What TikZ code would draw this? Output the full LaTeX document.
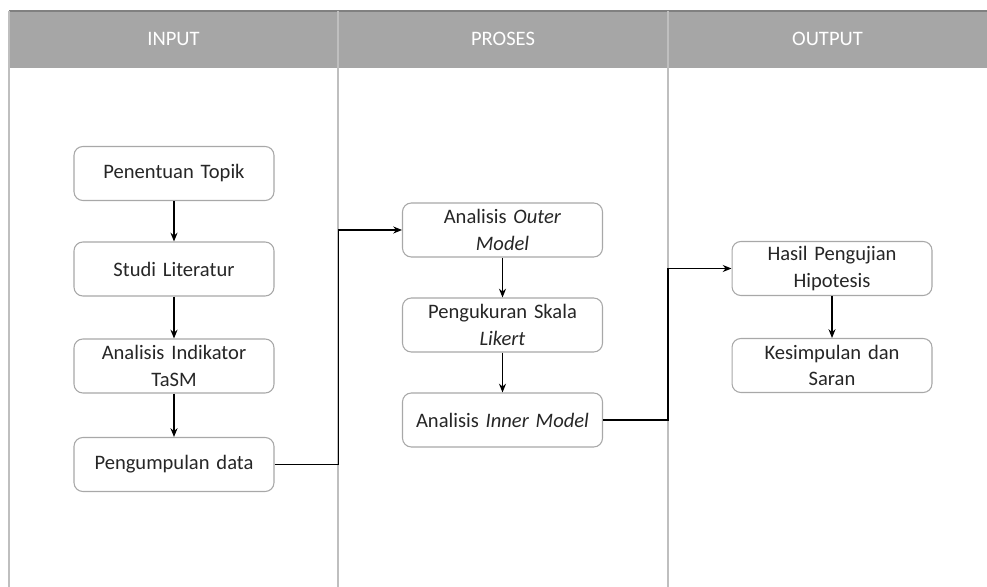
\documentclass[tikz,border=0pt]{standalone}
\usepackage{fontspec}
\setmainfont{Carlito}
\usepackage{tikz}
\usetikzlibrary{arrows.meta}
\definecolor{headgray}{HTML}{A6A6A6}
\definecolor{linegray}{HTML}{BFBFBF}
\definecolor{boxgray}{HTML}{A8A8A8}
\definecolor{textdark}{HTML}{262626}

\tikzset{
  stepbox/.style={draw=boxgray,line width=0.6pt,rounded corners=5pt,fill=white,
    minimum width=4cm,minimum height=1.08cm,align=center,text width=3.8cm,
    text=textdark,font=\fontsize{11.7}{15}\selectfont,inner sep=0pt},
  headtext/.style={text=white,font=\fontsize{11.7}{14}\selectfont},
  flow/.style={-{Stealth[length=5pt,width=4pt]},line width=0.6pt,black}
}

\begin{document}
\begin{tikzpicture}[x=0.02cm,y=-0.02cm]
      \useasboundingbox (0,0) rectangle (987,587);
      % kolom
      \fill[headgray] (9,11) rectangle (987,67);
      \draw[gray,line width=0.8pt] (9,11)--(987,11);
      \draw[gray!70,line width=0.6pt] (9,67)--(987,67);
      \foreach \xk in {9,338,668}
        \draw[linegray,line width=0.8pt] (\xk,11)--(\xk,587);
      \node[headtext] (hin) at (173.5,39) {INPUT};
      \node[headtext] (hpr) at (503,39) {PROSES};
      \node[headtext] (hout) at (827.5,39) {OUTPUT};
      % input
      \node[stepbox] (topik) at (174,173.5) {Penentuan Topik};
      \node[stepbox] (studi) at (174,269) {Studi Literatur};
      \node[stepbox] (indik) at (174,366) {Analisis Indikator\\TaSM};
      \node[stepbox] (data) at (174,464.5) {Pengumpulan data};
      % proses
      \node[stepbox] (outer) at (502.5,230) {Analisis \textit{Outer}\\\textit{Model}};
      \node[stepbox] (likert) at (502.5,325) {Pengukuran Skala\\\textit{Likert}};
      \node[stepbox] (inner) at (502.5,420) {Analisis \textit{Inner Model}};
      % output
      \node[stepbox] (hasil) at (832,268.5) {Hasil Pengujian\\Hipotesis};
      \node[stepbox] (simpul) at (832,365.5) {Kesimpulan dan\\Saran};
      %\draw[flow] (topik) -- (data);
      \draw[flow] (topik) -- (studi);
      \draw[flow] (studi) -- (indik);
      \draw[flow] (indik) -- (data);
      \draw[flow] (data.east) -- ++(64,0) |- (outer.west);
      \draw[flow] (outer) -- (likert);
      \draw[flow] (likert) -- (inner);
      \draw[flow] (inner.east) -- ++(65,0) |- (hasil.west);
      \draw[flow] (hasil) -- (simpul);
    \end{tikzpicture}
\end{document}
